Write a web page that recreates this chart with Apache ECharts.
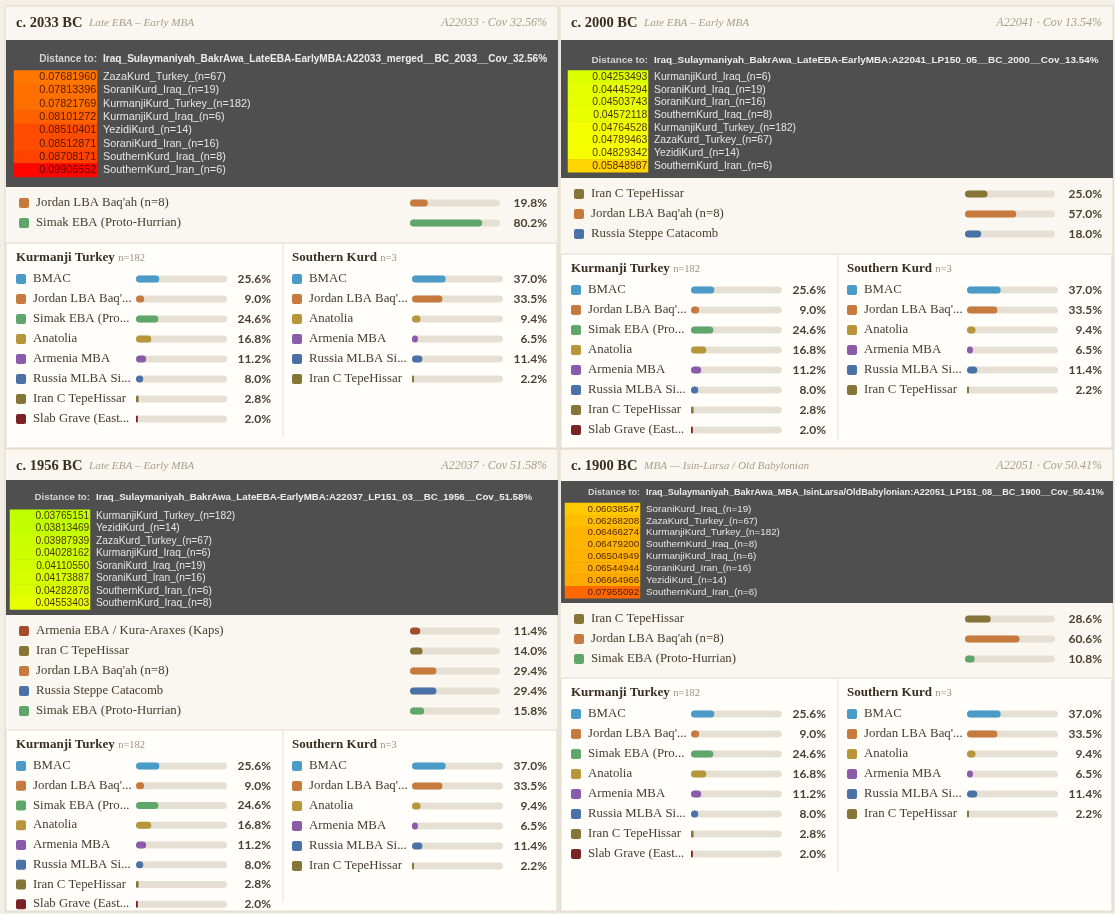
<!DOCTYPE html>
<html>
<head>
<meta charset="utf-8">
<script src="https://cdn.jsdelivr.net/npm/echarts@6/dist/echarts.min.js"></script>
<style>
html,body{margin:0;padding:0;background:#f3efe7;}
#main{width:1115px;height:914px;}
</style>
</head>
<body>
<div id="main"></div>
<script>
// ---------- data ----------
var hdr2033 = ['c. 2033 BC', 'Late EBA – Early MBA', 'A22033 · Cov 32.56%'];
var target2033 = 'Iraq_Sulaymaniyah_BakrAwa_LateEBA-EarlyMBA:A22033_merged__BC_2033__Cov_32.56%';
var distNames2033 = ['ZazaKurd_Turkey_(n=67)', 'SoraniKurd_Iraq_(n=19)', 'KurmanjiKurd_Turkey_(n=182)', 'KurmanjiKurd_Iraq_(n=6)', 'YezidiKurd_(n=14)', 'SoraniKurd_Iran_(n=16)', 'SouthernKurd_Iraq_(n=8)', 'SouthernKurd_Iran_(n=6)'];
var distVals2033 = [0.07681960, 0.07813396, 0.07821769, 0.08101272, 0.08510401, 0.08512871, 0.08708171, 0.09906552];
var mixNames2033 = ["Jordan LBA Baq'ah (n=8)", 'Simak EBA (Proto-Hurrian)'];
var mixVals2033 = [19.8, 80.2];

var hdr2000 = ['c. 2000 BC', 'Late EBA – Early MBA', 'A22041 · Cov 13.54%'];
var target2000 = 'Iraq_Sulaymaniyah_BakrAwa_LateEBA-EarlyMBA:A22041_LP150_05__BC_2000__Cov_13.54%';
var distNames2000 = ['KurmanjiKurd_Iraq_(n=6)', 'SoraniKurd_Iraq_(n=19)', 'SoraniKurd_Iran_(n=16)', 'SouthernKurd_Iraq_(n=8)', 'KurmanjiKurd_Turkey_(n=182)', 'ZazaKurd_Turkey_(n=67)', 'YezidiKurd_(n=14)', 'SouthernKurd_Iran_(n=6)'];
var distVals2000 = [0.04253493, 0.04445294, 0.04503743, 0.04572118, 0.04764528, 0.04789463, 0.04829342, 0.05848987];
var mixNames2000 = ['Iran C TepeHissar', "Jordan LBA Baq'ah (n=8)", 'Russia Steppe Catacomb'];
var mixVals2000 = [25.0, 57.0, 18.0];

var hdr1956 = ['c. 1956 BC', 'Late EBA – Early MBA', 'A22037 · Cov 51.58%'];
var target1956 = 'Iraq_Sulaymaniyah_BakrAwa_LateEBA-EarlyMBA:A22037_LP151_03__BC_1956__Cov_51.58%';
var distNames1956 = ['KurmanjiKurd_Turkey_(n=182)', 'YezidiKurd_(n=14)', 'ZazaKurd_Turkey_(n=67)', 'KurmanjiKurd_Iraq_(n=6)', 'SoraniKurd_Iraq_(n=19)', 'SoraniKurd_Iran_(n=16)', 'SouthernKurd_Iran_(n=6)', 'SouthernKurd_Iraq_(n=8)'];
var distVals1956 = [0.03765151, 0.03813469, 0.03987939, 0.04028162, 0.04110550, 0.04173887, 0.04282878, 0.04553403];
var mixNames1956 = ['Armenia EBA / Kura-Araxes (Kaps)', 'Iran C TepeHissar', "Jordan LBA Baq'ah (n=8)", 'Russia Steppe Catacomb', 'Simak EBA (Proto-Hurrian)'];
var mixVals1956 = [11.4, 14.0, 29.4, 29.4, 15.8];

var hdr1900 = ['c. 1900 BC', 'MBA — Isin-Larsa / Old Babylonian', 'A22051 · Cov 50.41%'];
var target1900 = 'Iraq_Sulaymaniyah_BakrAwa_MBA_IsinLarsa/OldBabylonian:A22051_LP151_08__BC_1900__Cov_50.41%';
var distNames1900 = ['SoraniKurd_Iraq_(n=19)', 'ZazaKurd_Turkey_(n=67)', 'KurmanjiKurd_Turkey_(n=182)', 'SouthernKurd_Iraq_(n=8)', 'KurmanjiKurd_Iraq_(n=6)', 'SoraniKurd_Iran_(n=16)', 'YezidiKurd_(n=14)', 'SouthernKurd_Iran_(n=6)'];
var distVals1900 = [0.06038547, 0.06268208, 0.06466274, 0.06479200, 0.06504949, 0.06544944, 0.06664966, 0.07955092];
var mixNames1900 = ['Iran C TepeHissar', "Jordan LBA Baq'ah (n=8)", 'Simak EBA (Proto-Hurrian)'];
var mixVals1900 = [28.6, 60.6, 10.8];

// modern reference groups (same in every card)
var kurmanjiTitle = ['Kurmanji Turkey', 'n=182'];
var kurmanjiNames = ['BMAC', "Jordan LBA Baq'...", 'Simak EBA (Pro...', 'Anatolia', 'Armenia MBA', 'Russia MLBA Si...', 'Iran C TepeHissar', 'Slab Grave (East...'];
var kurmanjiVals = [25.6, 9.0, 24.6, 16.8, 11.2, 8.0, 2.8, 2.0];
var southernTitle = ['Southern Kurd', 'n=3'];
var southernNames = ['BMAC', "Jordan LBA Baq'...", 'Anatolia', 'Armenia MBA', 'Russia MLBA Si...', 'Iran C TepeHissar'];
var southernVals = [37.0, 33.5, 9.4, 6.5, 11.4, 2.2];

// ---------- styles ----------
var SERIF = '"Liberation Serif", "DejaVu Serif", serif';
var SANS = '"Liberation Sans", Arial, sans-serif';
var PCT = 'Lato, "Open Sans", sans-serif';

var palette = [
  ['BMAC', '#4a9bc8'],
  ['Jordan', '#c77a3e'],
  ['Simak', '#5ea66a'],
  ['Anatolia', '#b7963b'],
  ['Armenia MBA', '#8b5bab'],
  ['Armenia EBA', '#a44b2c'],
  ['Russia MLBA', '#4a72a6'],
  ['Russia Steppe', '#4a72a6'],
  ['Iran C', '#857637'],
  ['Slab', '#7b2227']
];
function colorIdx(name) {
  for (var i = 0; i < palette.length; i++) {
    if (name.indexOf(palette[i][0]) === 0) return i;
  }
  return 0;
}
var rich = { t: { fontFamily: SERIF, fontSize: 12.8, color: '#463b2f', padding: [0, 0, 0, 7] } };
palette.forEach(function (p, i) {
  rich['c' + i] = { backgroundColor: p[1], width: 10, height: 10, borderRadius: 2 };
});

// layout of the four cards
var cards = [
  { x: 5, y: 6, w: 553, h: 443, hdr: hdr2033, target: target2033, dn: distNames2033, dv: distVals2033, mn: mixNames2033, mv: mixVals2033,
    darkTop: 40, darkBot: 187, titleY: 59, titleFs: 10.1, cellX: 14, cellW: 83, cellTop: 70.5, rowH: 13.3, fs: 10.8, mixTop: 193, sepY: 243 },
  { x: 560, y: 6, w: 553, h: 443, hdr: hdr2000, target: target2000, dn: distNames2000, dv: distVals2000, mn: mixNames2000, mv: mixVals2000,
    darkTop: 40, darkBot: 178, titleY: 60, titleFs: 9.9, cellX: 568, cellW: 80, cellTop: 70.6, rowH: 12.7, fs: 10.4, mixTop: 184, sepY: 254 },
  { x: 5, y: 449, w: 553, h: 463, hdr: hdr1956, target: target1956, dn: distNames1956, dv: distVals1956, mn: mixNames1956, mv: mixVals1956,
    darkTop: 480, darkBot: 615, titleY: 497, titleFs: 9.7, cellX: 10, cellW: 80, cellTop: 509.8, rowH: 12.45, fs: 10.2, mixTop: 621, sepY: 730 },
  { x: 560, y: 449, w: 553, h: 463, hdr: hdr1900, target: target1900, dn: distNames1900, dv: distVals1900, mn: mixNames1900, mv: mixVals1900,
    darkTop: 481, darkBot: 603, titleY: 492, titleFs: 9.1, cellX: 565, cellW: 75, cellTop: 503, rowH: 11.9, fs: 9.8, mixTop: 609, sepY: 678 }
];

var grid = [], xAxis = [], yAxis = [], series = [], graphic = [], heatIdx = [];

function addBars(names, vals, left, trackW, top, markerX, pctRight) {
  var gi = grid.length;
  grid.push({ left: left, top: top, width: trackW, height: names.length * 20 });
  xAxis.push({ gridIndex: gi, type: 'value', min: 0, max: 100, show: false });
  var yi = yAxis.length;
  yAxis.push({
    gridIndex: gi, type: 'category', data: names, inverse: true, z: 10,
    axisLine: { show: false }, axisTick: { show: false }, splitLine: { show: false },
    axisLabel: {
      interval: 0, align: 'left', margin: left - markerX, rich: rich,
      formatter: function (v) { return '{c' + colorIdx(v) + '|}{t|' + v + '}'; }
    }
  });
  yAxis.push({
    gridIndex: gi, type: 'category', data: names, inverse: true, position: 'right', z: 10,
    axisLine: { show: false }, axisTick: { show: false }, splitLine: { show: false },
    axisLabel: {
      interval: 0, align: 'right', margin: pctRight - left - trackW,
      fontFamily: PCT, fontWeight: 'bold', fontSize: 12, color: '#4a3f33',
      formatter: function (v, i) { return vals[i].toFixed(1) + '%'; }
    }
  });
  series.push({
    type: 'bar', xAxisIndex: gi, yAxisIndex: yi, data: vals.slice(), barWidth: 7, silent: true,
    showBackground: true, backgroundStyle: { color: '#e6dfd3', borderRadius: 4 },
    itemStyle: { borderRadius: 4, color: function (p) { return palette[colorIdx(p.name)][1]; } }
  });
}

function addTable(c) {
  var gi = grid.length;
  grid.push({ left: c.cellX, top: c.cellTop, width: c.cellW, height: c.dn.length * c.rowH });
  xAxis.push({ gridIndex: gi, type: 'category', data: [''], show: false });
  var yi = yAxis.length;
  yAxis.push({
    gridIndex: gi, type: 'category', data: c.dn, inverse: true, position: 'right', z: 10,
    axisLine: { show: false }, axisTick: { show: false }, splitLine: { show: false },
    axisLabel: { interval: 0, align: 'left', margin: 6, color: '#e4e4e4', fontFamily: SANS, fontSize: c.fs }
  });
  heatIdx.push(series.length);
  series.push({
    type: 'heatmap', xAxisIndex: gi, yAxisIndex: yi, silent: true, z: 5,
    data: c.dv.map(function (v, i) { return [0, i, v]; }),
    itemStyle: { borderWidth: 0 },
    label: {
      show: true, position: 'insideRight', distance: 1, color: 'rgba(50,12,0,0.85)',
      fontFamily: SANS, fontSize: c.fs,
      formatter: function (p) { return p.value[2].toFixed(8); }
    }
  });
}

function txt(x, y, text, font, fill, align) {
  graphic.push({ type: 'text', x: x, y: y, z: 5, style: { text: text, font: font, fill: fill, textAlign: align || 'left', textVerticalAlign: 'middle' } });
}

cards.forEach(function (c) {
  var bottom = c.y + c.h;
  // card body and sections
  graphic.push({ type: 'rect', z: 0, shape: { x: c.x, y: c.y, width: c.w, height: c.h }, style: { fill: '#faf7f1', stroke: '#e0d7c7', lineWidth: 1 } });
  graphic.push({ type: 'rect', z: 1, shape: { x: c.x + 1, y: c.darkTop, width: c.w - 1, height: c.darkBot - c.darkTop }, style: { fill: '#4f4f4f' } });
  graphic.push({ type: 'rect', z: 1, shape: { x: c.x + 1, y: c.sepY, width: c.w - 2, height: bottom - c.sepY - 1 }, style: { fill: '#fffefb', stroke: '#e3dacb', lineWidth: 1 } });
  graphic.push({ type: 'line', z: 2, shape: { x1: c.x + 278, y1: c.sepY, x2: c.x + 278, y2: Math.min(bottom - 10, c.sepY + 194) }, style: { stroke: '#e6dfd2', lineWidth: 1 } });

  // header
  graphic.push({
    type: 'text', x: c.x + 11, y: c.y + 17, z: 5,
    style: {
      text: '{a|' + c.hdr[0] + '}  {b|' + c.hdr[1] + '}', textVerticalAlign: 'middle',
      rich: {
        a: { fontFamily: SERIF, fontWeight: 'bold', fontSize: 14.5, fill: '#3a2e21' },
        b: { fontFamily: SERIF, fontStyle: 'italic', fontSize: 11.2, fill: '#a89e8b' }
      }
    }
  });
  txt(c.x + 542, c.y + 17, c.hdr[2], 'italic 12px ' + SERIF, '#a89e8b', 'right');

  // distance table title
  var edge = c.cellX + c.cellW;
  txt(edge, c.titleY, 'Distance to:', 'bold ' + c.titleFs + 'px ' + SANS, '#d2d2d2', 'right');
  txt(edge + 6, c.titleY, c.target, 'bold ' + c.titleFs + 'px ' + SANS, '#ececec', 'left');
  addTable(c);

  // sample mix
  addBars(c.mn, c.mv, c.x + 405, 90, c.mixTop, c.x + 14, c.x + 542);

  // reference groups
  var subs = [[kurmanjiTitle, kurmanjiNames, kurmanjiVals], [southernTitle, southernNames, southernVals]];
  subs.forEach(function (s, k) {
    var ox = c.x + 11 + k * 276;
    graphic.push({
      type: 'text', x: ox, y: c.sepY + 15, z: 5,
      style: {
        text: '{a|' + s[0][0] + '} {b|' + s[0][1] + '}', textVerticalAlign: 'middle',
        rich: {
          a: { fontFamily: SERIF, fontWeight: 'bold', fontSize: 13, fill: '#3a2e21' },
          b: { fontFamily: SERIF, fontSize: 10.5, fill: '#9a9080' }
        }
      }
    });
    addBars(s[1], s[2], ox + 120, 91, c.sepY + 26, ox, ox + 255);
  });
});

var chart = echarts.init(document.getElementById('main'));
chart.setOption({
  backgroundColor: '#f3efe7',
  animation: false,
  grid: grid,
  xAxis: xAxis,
  yAxis: yAxis,
  visualMap: {
    type: 'continuous', show: false, min: 0, max: 0.1, dimension: 2, seriesIndex: heatIdx,
    inRange: { color: ['#00ff00', '#ffff00', '#ff0000'] }
  },
  graphic: graphic,
  series: series
});
</script>
</body>
</html>
